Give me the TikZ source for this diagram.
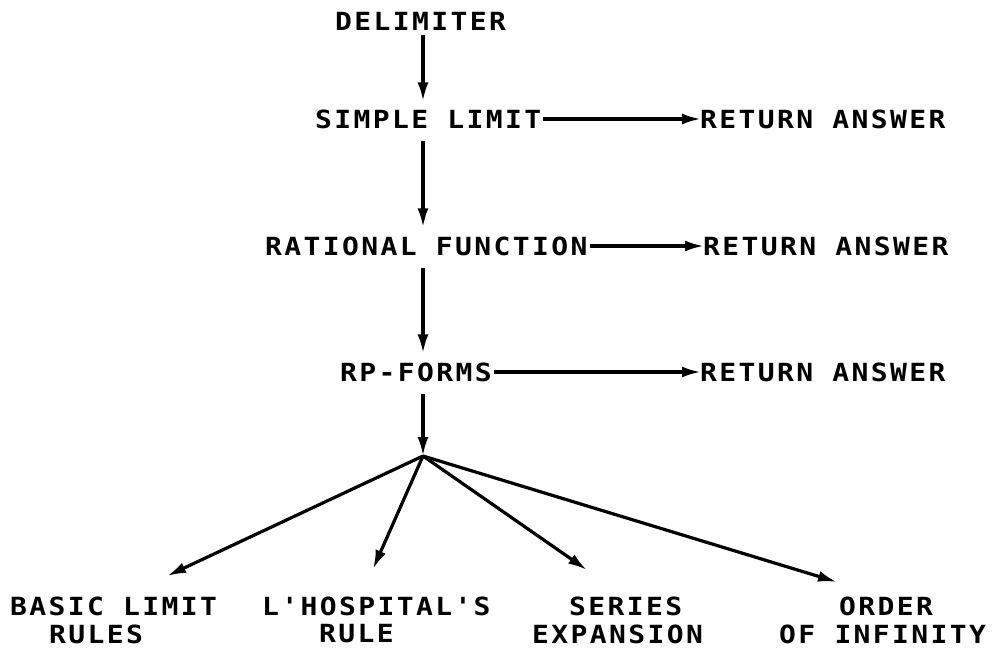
\documentclass[tikz,border=0pt]{standalone}
\usepackage{fontspec}
\usetikzlibrary{arrows.meta}
\newfontfamily\lpfont[FakeStretch=1.12,LetterSpace=9.5,Ligatures=TeXOff]{DejaVu Sans Mono}
\tikzset{
  lbl/.style={font=\lpfont\bfseries\fontsize{25pt}{27pt}\selectfont, inner sep=0pt, anchor=west},
  arr/.style={line width=3.2pt, -{Latex[length=19pt,width=11pt]}}
}
\begin{document}
\begin{tikzpicture}[x=1pt,y=-1pt]
\useasboundingbox (0,0) rectangle (998,654);
% main column
\node[lbl] (delim) at (335,21) {DELIMITER};
\node[lbl] (simple) at (315,119) {SIMPLE LIMIT};
\node[lbl] (ret1) at (700,119) {RETURN ANSWER};
\node[lbl] (rational) at (265,246) {RATIONAL FUNCTION};
\node[lbl] (ret2) at (703,246) {RETURN ANSWER};
\node[lbl] (rp) at (340,372) {RP-FORMS};
\node[lbl] (ret3) at (700,372) {RETURN ANSWER};
\coordinate (j) at (423,456);
% bottom labels
\node[lbl] (basic1) at (10,606) {BASIC LIMIT};
\node[lbl] (basic2) at (49,634) {RULES};
\node[lbl] (hosp1) at (262,606) {L'HOSPITAL'S};
\node[lbl] (hosp2) at (319,634) {RULE};
\node[lbl] (ser1) at (569,606) {SERIES};
\node[lbl] (ser2) at (532,634) {EXPANSION};
\node[lbl] (ord1) at (839,606) {ORDER};
\node[lbl] (ord2) at (779,634) {OF INFINITY};
% arrow tip points
\coordinate (tB) at (167,576);
\coordinate (tH) at (373,569);
\coordinate (tS) at (587,570);
\coordinate (tO) at (837,582);
% vertical arrows
\draw[arr] ([yshift=-5pt]delim.south -| j) -- ([yshift=8pt]simple.north -| j);
\draw[arr] ([yshift=-12pt]simple.south -| j) -- ([yshift=9pt]rational.north -| j);
\draw[arr] ([yshift=-12pt]rational.south -| j) -- ([yshift=9pt]rp.north -| j);
\draw[arr] ([yshift=-12pt]rp.south -| j) -- (j);
% horizontal arrows
\draw[arr] ([xshift=2pt]simple.east) -- ([xshift=1pt]ret1.west);
\draw[arr] ([xshift=2pt]rational.east) -- ([xshift=1pt]ret2.west);
\draw[arr] ([xshift=2pt]rp.east) -- ([xshift=1pt]ret3.west);
% branches
\draw[arr] (j) -- (tB);
\draw[arr] (j) -- (tH);
\draw[arr] (j) -- (tS);
\draw[arr] (j) -- (tO);
\end{tikzpicture}
\end{document}
